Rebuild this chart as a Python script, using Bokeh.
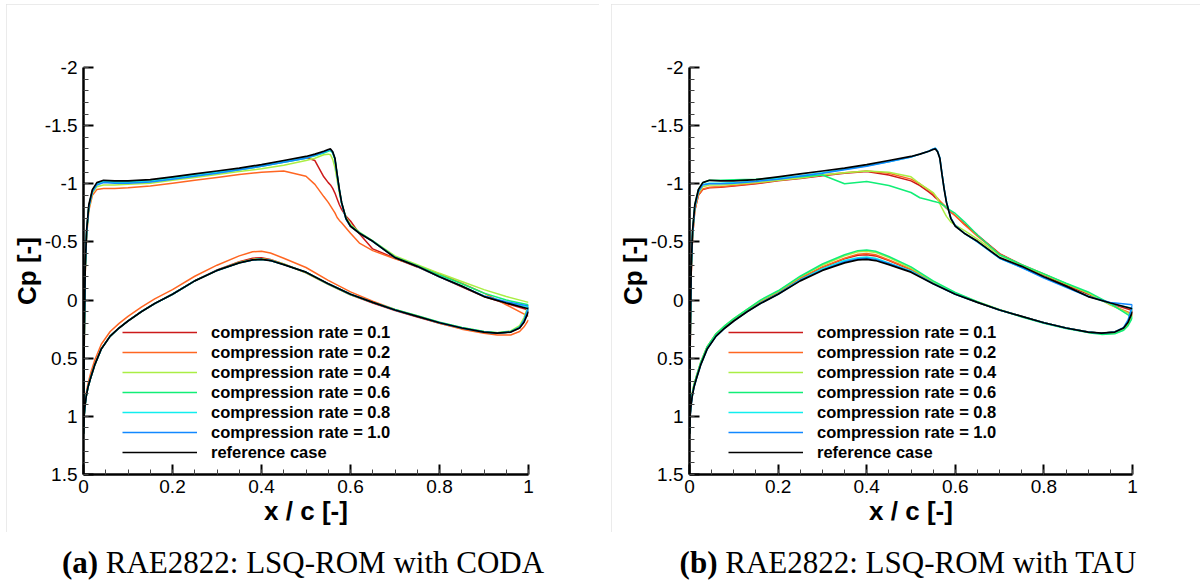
from bokeh.plotting import figure
from bokeh.models import Range1d, FixedTicker, Legend, LegendItem, Div
from bokeh.layouts import row, column
from bokeh.embed import file_html
from bokeh.resources import INLINE

# ---------------- data ----------------
XU = [0, 0.001, 0.002, 0.004, 0.007, 0.012, 0.02, 0.03, 0.045, 0.07, 0.1, 0.15, 0.2, 0.25, 0.3,
      0.35, 0.4, 0.45, 0.5, 0.52, 0.54, 0.55, 0.555, 0.56, 0.565, 0.57, 0.575, 0.58, 0.59, 0.6,
      0.62, 0.65, 0.7, 0.75, 0.8, 0.85, 0.9, 0.95, 1.0]
XL = [0, 0.001, 0.003, 0.006, 0.01, 0.016, 0.025, 0.04, 0.06, 0.08, 0.1, 0.13, 0.16, 0.2, 0.25,
      0.3, 0.35, 0.38, 0.4, 0.42, 0.45, 0.5, 0.55, 0.6, 0.65, 0.7, 0.75, 0.8, 0.85, 0.9, 0.93,
      0.96, 0.98, 0.99, 1.0]

REF_U = [1.15, 0.6, 0.2, -0.3, -0.6, -0.82, -0.95, -1.01, -1.03, -1.025, -1.025, -1.035, -1.06, -1.085, -1.11,
         -1.135, -1.165, -1.2, -1.235, -1.255, -1.28, -1.295, -1.3, -1.275, -1.22, -1.08, -0.95, -0.84, -0.7, -0.635,
         -0.575, -0.505, -0.365, -0.29, -0.2, -0.12, -0.03, 0.025, 0.075]
REF_L = [1.15, 1.02, 0.92, 0.83, 0.75, 0.67, 0.56, 0.42, 0.31, 0.24, 0.18, 0.1, 0.03, -0.05, -0.165,
         -0.255, -0.32, -0.345, -0.35, -0.34, -0.305, -0.24, -0.14, -0.05, 0.02, 0.085, 0.14, 0.195, 0.24, 0.275, 0.285,
         0.275, 0.24, 0.19, 0.1]

# CODA (left panel)
CODA_U = {
    "0.1": [1.15, 0.62, 0.22, -0.28, -0.59, -0.81, -0.94, -1.0, -1.02, -1.015, -1.015, -1.025, -1.05, -1.075, -1.1,
            -1.125, -1.155, -1.19, -1.225, -1.2, -1.06, -1.01, -0.99, -0.96, -0.92, -0.87, -0.82, -0.78, -0.72, -0.68,
            -0.57, -0.44, -0.36, -0.285, -0.2, -0.115, -0.03, 0.03, 0.085],
    "0.2": [1.15, 0.65, 0.26, -0.24, -0.55, -0.77, -0.9, -0.95, -0.96, -0.96, -0.965, -0.98, -1.005, -1.03, -1.055,
            -1.08, -1.1, -1.11, -1.065, -0.995, -0.89, -0.84, -0.81, -0.78, -0.75, -0.71, -0.685, -0.665, -0.62, -0.575,
            -0.49, -0.425, -0.355, -0.295, -0.225, -0.145, -0.06, 0.04, 0.14],
    "0.4": [1.15, 0.64, 0.24, -0.26, -0.57, -0.79, -0.92, -0.975, -0.99, -0.99, -0.995, -1.005, -1.03, -1.055, -1.08,
            -1.105, -1.13, -1.16, -1.2, -1.22, -1.25, -1.255, -1.25, -1.21, -1.14, -1.03, -0.92, -0.83, -0.71, -0.65,
            -0.585, -0.51, -0.38, -0.305, -0.23, -0.16, -0.09, -0.03, 0.02],
    "0.6": [1.15, 0.62, 0.22, -0.28, -0.585, -0.805, -0.935, -0.995, -1.015, -1.01, -1.01, -1.02, -1.045, -1.07, -1.095,
            -1.12, -1.15, -1.185, -1.22, -1.24, -1.265, -1.28, -1.285, -1.265, -1.21, -1.08, -0.95, -0.84, -0.7, -0.64,
            -0.58, -0.51, -0.37, -0.295, -0.215, -0.14, -0.06, 0.0, 0.04],
    "0.8": [1.15, 0.61, 0.21, -0.29, -0.59, -0.81, -0.94, -1.0, -1.02, -1.015, -1.015, -1.025, -1.05, -1.075, -1.1,
            -1.125, -1.155, -1.19, -1.225, -1.245, -1.27, -1.285, -1.29, -1.27, -1.215, -1.075, -0.945, -0.835, -0.695, -0.635,
            -0.575, -0.505, -0.365, -0.29, -0.2, -0.12, -0.035, 0.02, 0.06],
    "1.0": [1.15, 0.62, 0.22, -0.28, -0.58, -0.8, -0.93, -0.99, -1.01, -1.005, -1.005, -1.015, -1.04, -1.065, -1.09,
            -1.12, -1.15, -1.185, -1.22, -1.245, -1.27, -1.29, -1.295, -1.27, -1.215, -1.075, -0.945, -0.835, -0.695, -0.635,
            -0.575, -0.505, -0.365, -0.29, -0.2, -0.12, -0.035, 0.015, 0.05],
}
CODA_L = {
    "0.1": [1.15, 1.02, 0.92, 0.83, 0.75, 0.67, 0.56, 0.42, 0.31, 0.24, 0.18, 0.1, 0.03, -0.05, -0.165,
            -0.26, -0.33, -0.36, -0.365, -0.35, -0.31, -0.235, -0.135, -0.045, 0.025, 0.09, 0.145, 0.2, 0.245, 0.275, 0.285,
            0.275, 0.24, 0.18, 0.09],
    "0.2": [1.15, 1.0, 0.89, 0.8, 0.72, 0.63, 0.52, 0.38, 0.27, 0.2, 0.14, 0.06, -0.01, -0.09, -0.205,
            -0.3, -0.38, -0.415, -0.42, -0.405, -0.36, -0.28, -0.17, -0.07, 0.01, 0.08, 0.14, 0.2, 0.25, 0.285, 0.3,
            0.3, 0.27, 0.23, 0.17],
    "0.4": [1.15, 1.02, 0.92, 0.83, 0.75, 0.67, 0.56, 0.42, 0.31, 0.24, 0.18, 0.1, 0.03, -0.05, -0.165,
            -0.255, -0.325, -0.35, -0.355, -0.345, -0.31, -0.235, -0.135, -0.045, 0.02, 0.08, 0.135, 0.19, 0.235, 0.27, 0.28,
            0.265, 0.22, 0.15, 0.04],
    "0.6": [1.15, 1.02, 0.92, 0.83, 0.75, 0.67, 0.56, 0.42, 0.31, 0.24, 0.18, 0.1, 0.03, -0.05, -0.165,
            -0.255, -0.32, -0.345, -0.35, -0.34, -0.305, -0.24, -0.14, -0.05, 0.02, 0.08, 0.135, 0.19, 0.235, 0.27, 0.28,
            0.27, 0.23, 0.17, 0.06],
    "0.8": [1.15, 1.02, 0.92, 0.83, 0.75, 0.67, 0.56, 0.42, 0.31, 0.24, 0.18, 0.1, 0.03, -0.05, -0.165,
            -0.255, -0.32, -0.345, -0.35, -0.34, -0.305, -0.24, -0.14, -0.05, 0.02, 0.085, 0.14, 0.195, 0.24, 0.275, 0.285,
            0.275, 0.235, 0.18, 0.08],
    "1.0": [1.15, 1.02, 0.92, 0.83, 0.75, 0.67, 0.56, 0.42, 0.31, 0.24, 0.18, 0.1, 0.03, -0.05, -0.165,
            -0.255, -0.32, -0.345, -0.35, -0.34, -0.305, -0.24, -0.14, -0.05, 0.02, 0.085, 0.14, 0.195, 0.24, 0.275, 0.285,
            0.275, 0.235, 0.175, 0.06],
}

# TAU (right panel)
TAU_U = {
    "0.1": [1.15, 0.65, 0.26, -0.24, -0.55, -0.77, -0.9, -0.95, -0.965, -0.97, -0.98, -1.0, -1.025, -1.045, -1.07,
            -1.09, -1.105, -1.075, -1.025, -0.985, -0.93, -0.9, -0.88, -0.865, -0.845, -0.825, -0.81, -0.79, -0.755, -0.725,
            -0.655, -0.56, -0.4, -0.3, -0.215, -0.13, -0.05, 0.03, 0.09],
    "0.2": [1.15, 0.65, 0.26, -0.24, -0.55, -0.77, -0.9, -0.955, -0.97, -0.975, -0.985, -1.005, -1.03, -1.05, -1.075,
            -1.095, -1.11, -1.09, -1.04, -1.0, -0.945, -0.915, -0.895, -0.875, -0.855, -0.835, -0.815, -0.795, -0.76, -0.725,
            -0.65, -0.55, -0.395, -0.305, -0.225, -0.14, -0.06, 0.04, 0.12],
    "0.4": [1.15, 0.63, 0.23, -0.27, -0.57, -0.79, -0.92, -0.975, -0.99, -0.99, -0.995, -1.01, -1.03, -1.05, -1.075,
            -1.095, -1.11, -1.1, -1.06, -1.0, -0.95, -0.925, -0.9, -0.87, -0.83, -0.79, -0.755, -0.72, -0.67, -0.645,
            -0.6, -0.525, -0.385, -0.3, -0.22, -0.14, -0.06, 0.04, 0.13],
    "0.6": [1.15, 0.6, 0.2, -0.3, -0.6, -0.82, -0.95, -1.01, -1.03, -1.03, -1.035, -1.04, -1.05, -1.06, -1.075,
            -1.0, -1.02, -0.985, -0.925, -0.88, -0.86, -0.85, -0.845, -0.84, -0.835, -0.825, -0.81, -0.795, -0.77, -0.745,
            -0.675, -0.56, -0.39, -0.305, -0.225, -0.145, -0.07, 0.03, 0.15],
    "0.8": [1.15, 0.62, 0.22, -0.28, -0.585, -0.805, -0.935, -0.995, -1.005, -1.005, -1.01, -1.025, -1.045, -1.07, -1.095,
            -1.125, -1.155, -1.19, -1.23, -1.255, -1.28, -1.3, -1.305, -1.28, -1.225, -1.085, -0.955, -0.845, -0.705, -0.64,
            -0.575, -0.5, -0.36, -0.28, -0.195, -0.115, -0.035, 0.03, 0.07],
    "1.0": [1.15, 0.62, 0.22, -0.28, -0.58, -0.8, -0.93, -0.99, -1.0, -1.0, -1.005, -1.02, -1.04, -1.065, -1.09,
            -1.12, -1.15, -1.19, -1.23, -1.255, -1.28, -1.3, -1.305, -1.28, -1.225, -1.085, -0.955, -0.845, -0.705, -0.64,
            -0.575, -0.5, -0.36, -0.28, -0.19, -0.11, -0.03, 0.02, 0.04],
}
TAU_L = {
    "0.1": [1.15, 1.02, 0.91, 0.82, 0.74, 0.66, 0.55, 0.41, 0.3, 0.23, 0.17, 0.09, 0.015, -0.065, -0.185,
            -0.28, -0.355, -0.385, -0.39, -0.38, -0.34, -0.26, -0.15, -0.055, 0.02, 0.085, 0.14, 0.195, 0.24, 0.275, 0.285,
            0.275, 0.24, 0.19, 0.09],
    "0.2": [1.15, 1.01, 0.9, 0.81, 0.73, 0.65, 0.54, 0.4, 0.29, 0.225, 0.165, 0.085, 0.01, -0.07, -0.19,
            -0.285, -0.36, -0.395, -0.4, -0.39, -0.345, -0.265, -0.155, -0.055, 0.02, 0.085, 0.14, 0.195, 0.24, 0.275, 0.285,
            0.275, 0.245, 0.2, 0.12],
    "0.4": [1.15, 1.01, 0.9, 0.81, 0.73, 0.65, 0.54, 0.4, 0.29, 0.22, 0.16, 0.08, 0.005, -0.075, -0.2,
            -0.3, -0.38, -0.415, -0.42, -0.41, -0.365, -0.275, -0.16, -0.06, 0.015, 0.08, 0.14, 0.195, 0.24, 0.275, 0.29,
            0.285, 0.255, 0.21, 0.13],
    "0.6": [1.15, 1.01, 0.9, 0.81, 0.73, 0.65, 0.54, 0.4, 0.29, 0.22, 0.16, 0.08, 0.0, -0.08, -0.205,
            -0.31, -0.39, -0.425, -0.43, -0.42, -0.375, -0.285, -0.165, -0.065, 0.015, 0.085, 0.145, 0.2, 0.245, 0.28, 0.295,
            0.29, 0.26, 0.22, 0.15],
    "0.8": [1.15, 1.02, 0.92, 0.83, 0.75, 0.67, 0.56, 0.42, 0.31, 0.24, 0.18, 0.1, 0.025, -0.055, -0.175,
            -0.27, -0.34, -0.365, -0.37, -0.36, -0.32, -0.25, -0.145, -0.05, 0.02, 0.085, 0.14, 0.195, 0.24, 0.275, 0.285,
            0.275, 0.24, 0.18, 0.07],
    "1.0": [1.15, 1.02, 0.92, 0.83, 0.75, 0.67, 0.56, 0.42, 0.31, 0.24, 0.18, 0.1, 0.03, -0.05, -0.17,
            -0.26, -0.33, -0.355, -0.36, -0.35, -0.315, -0.245, -0.14, -0.05, 0.02, 0.085, 0.14, 0.195, 0.24, 0.275, 0.285,
            0.275, 0.235, 0.17, 0.04],
}

RATES = ["0.1", "0.2", "0.4", "0.6", "0.8", "1.0"]
RATE_COLORS = ["#cc1a1a", "#ff6622", "#aaee44", "#11ee77", "#11eeee", "#1188ff"]
REF_LABEL = "reference case"

X_TICKS = [0, 0.2, 0.4, 0.6, 0.8, 1.0]
X_TICK_LABELS = ["0", "0.2", "0.4", "0.6", "0.8", "1"]
X_MINOR = [0.05 * i for i in range(21)]
Y_TICKS = [-2, -1.5, -1, -0.5, 0, 0.5, 1, 1.5]
Y_TICK_LABELS = ["-2", "-1.5", "-1", "-0.5", "0", "0.5", "1", "1.5"]
Y_MINOR = [-2 + 0.1 * i for i in range(36)]

CAPTIONS = [("(a)", "RAE2822: LSQ-ROM with CODA"), ("(b)", "RAE2822: LSQ-ROM with TAU")]

SANS = "Liberation Sans"
SERIF = "Liberation Serif"


def loop(upper, lower):
    xs = XU[::-1] + XL[1:]
    ys = upper[::-1] + lower[1:]
    return xs, ys


def make_panel(width, left_border, frame_w, su, sl, margin):
    p = figure(width=width, height=528, output_backend="svg", toolbar_location=None,
               x_range=Range1d(0, 1), y_range=Range1d(1.5, -2),
               min_border_left=left_border, min_border_right=width - left_border - frame_w,
               min_border_top=63, min_border_bottom=58,
               x_axis_label="x / c [-]", y_axis_label="Cp [-]",
               margin=margin,
               styles={"outline": "1px solid #e4e4e4", "outline-offset": "-1px"})
    p.grid.visible = False
    p.outline_line_color = None
    p.background_fill_color = "white"
    p.border_fill_color = "white"

    p.xaxis.ticker = FixedTicker(ticks=X_TICKS, minor_ticks=X_MINOR)
    p.yaxis.ticker = FixedTicker(ticks=Y_TICKS, minor_ticks=Y_MINOR)
    p.xaxis.major_label_overrides = dict(zip(X_TICKS, X_TICK_LABELS))
    p.yaxis.major_label_overrides = dict(zip(Y_TICKS, Y_TICK_LABELS))
    for ax in (p.xaxis, p.yaxis):
        ax.axis_line_width = 2.5
        ax.axis_line_color = "black"
        ax.major_tick_in = 10
        ax.major_tick_out = 0
        ax.minor_tick_in = 5
        ax.minor_tick_out = 0
        ax.major_tick_line_width = 2
        ax.minor_tick_line_width = 1
        ax.minor_tick_line_color = "#444444"
        ax.major_label_text_font = SANS
        ax.major_label_text_font_size = "19px"
        ax.major_label_text_color = "black"
        ax.axis_label_text_font = SANS
        ax.axis_label_text_font_style = "bold"
        ax.axis_label_text_font_size = "26px"
        ax.axis_label_text_color = "black"
    p.yaxis.major_label_standoff = 6
    p.xaxis.major_label_standoff = 5
    p.yaxis.axis_label_standoff = 0
    p.xaxis.axis_label_standoff = 0

    items = []
    for rate, color in zip(RATES, RATE_COLORS):
        xs, ys = loop(su[rate], sl[rate])
        r = p.line(xs, ys, line_color=color, line_width=1.5)
        items.append(LegendItem(label="compression rate = " + rate, renderers=[r]))
    xs, ys = loop(REF_U, REF_L)
    r = p.line(xs, ys, line_color="black", line_width=1.7)
    items.append(LegendItem(label=REF_LABEL, renderers=[r]))

    legend = Legend(items=items, location=(39, 12), glyph_width=75, glyph_height=20,
                    label_height=20, label_standoff=14, spacing=0, padding=0, margin=0,
                    border_line_color=None, background_fill_alpha=0,
                    label_text_font=SANS, label_text_font_style="bold",
                    label_text_font_size="16.5px", label_text_color="black")
    p.add_layout(legend)
    return p


def make_caption(cap, width):
    tag, text = cap
    return Div(text="<b>" + tag + "</b> " + text, width=width, height=34,
               margin=(14, 0, 0, 0),
               styles={"font-family": SERIF, "font-size": "31px", "line-height": "34px",
                       "text-align": "center", "color": "black", "white-space": "nowrap"})


p1 = make_panel(593, 77, 445, CODA_U, CODA_L, (4, 0, 0, 6))
p2 = make_panel(589, 78, 443, TAU_U, TAU_L, (4, 0, 0, 12))
d1 = make_caption(CAPTIONS[0], 606)
d2 = make_caption(CAPTIONS[1], 604)

layout = column(row(p1, p2, spacing=0), row(d1, d2, spacing=0), spacing=0)
html = file_html(layout, INLINE, title="Cp distributions")
html = html.replace("</head>", "<style>html,body{margin:0;padding:0;overflow:hidden;}</style></head>", 1)
with open("out.html", "w") as f:
    f.write(html)
